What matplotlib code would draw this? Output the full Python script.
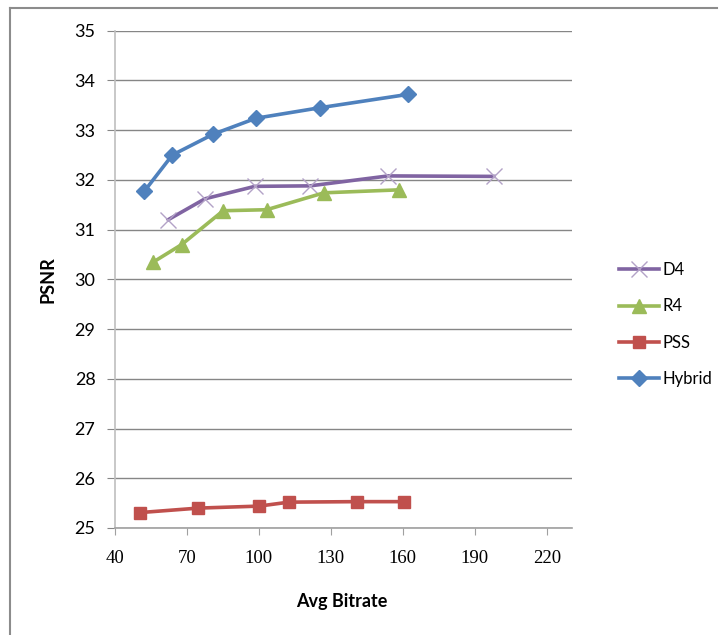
import matplotlib
matplotlib.use("Agg")
from matplotlib import pyplot as plt
from matplotlib.lines import Line2D

# data
hybrid_x = [52.2, 63.9, 81.0, 98.8, 125.3, 162.2]
hybrid_y = [31.77, 32.50, 32.92, 33.24, 33.45, 33.72]

d4_x = [62.2, 77.5, 98.3, 121.3, 153.9, 198.0]
d4_y = [31.20, 31.62, 31.87, 31.88, 32.08, 32.07]

r4_x = [55.7, 67.8, 85.1, 103.2, 127.1, 158.5]
r4_y = [30.34, 30.70, 31.38, 31.40, 31.74, 31.80]

pss_x = [50.4, 74.7, 100.0, 112.5, 140.7, 160.4]
pss_y = [25.31, 25.40, 25.44, 25.52, 25.53, 25.53]

x_ticks = [40, 70, 100, 130, 160, 190, 220]
y_ticks = [25, 26, 27, 28, 29, 30, 31, 32, 33, 34, 35]

W, H = 727, 635
fig = plt.figure(figsize=(W / 100, H / 100), dpi=100)
ax = fig.add_axes([115 / W, 1 - 528 / H, (572 - 115) / W, (528 - 30.7) / H])

lw = 2.6
ax.plot(d4_x, d4_y, color="#8064A2", lw=lw, marker="x", ms=11, mew=1,
        mec="#B3A2C7", label="D4", zorder=3)
ax.plot(r4_x, r4_y, color="#9BBB59", lw=lw, marker="^", ms=10,
        label="R4", zorder=3)
ax.plot(pss_x, pss_y, color="#C0504D", lw=lw, marker="s", ms=9,
        label="PSS", zorder=3)
ax.plot(hybrid_x, hybrid_y, color="#4F81BD", lw=lw, marker="D", ms=8,
        label="Hybrid", zorder=3)

ax.set_xlim(40, 230.5)
ax.set_ylim(25, 35)
ax.set_xticks(x_ticks)
ax.set_yticks(y_ticks)
ax.grid(axis="y", color="#868686", lw=1)
ax.set_axisbelow(True)

for s in ["top", "right"]:
    ax.spines[s].set_visible(False)
ax.spines["left"].set_color("#BFBFBF")
ax.spines["bottom"].set_color("#A0A0A0")
ax.spines["left"].set_linewidth(1.2)
ax.spines["bottom"].set_linewidth(1.2)
ax.tick_params(axis="y", length=6, color="#868686", pad=8,
               labelsize=13)
ax.tick_params(axis="x", length=5, color="#A0A0A0", pad=11,
               labelsize=13.5)
for t in ax.get_yticklabels():
    t.set_fontfamily("Lato")
for t in ax.get_xticklabels():
    t.set_fontfamily("Liberation Serif")

fig.text(48 / W, 1 - 280 / H, "PSNR", rotation=90, ha="center",
         va="center", fontsize=13, fontweight="bold", family="Lato")
fig.text(342 / W, 1 - 602 / H, "Avg Bitrate", ha="center", va="center",
         fontsize=13, fontweight="bold", family="Lato")

handles, labels = ax.get_legend_handles_labels()
fig.legend(handles, labels, loc="upper left",
           bbox_to_anchor=(604 / W, 1 - 247 / H), frameon=False,
           handlelength=2.4, handletextpad=0.2, labelspacing=1.22,
           prop={"family": "Lato", "size": 12})

# outer chart border (left and top only visible)
fig.add_artist(Line2D([10 / W, 10 / W], [0, 1 - 8 / H], color="#8C8C8C",
                      lw=1.5, transform=fig.transFigure))
fig.add_artist(Line2D([10 / W, 717 / W], [1 - 8 / H, 1 - 8 / H],
                      color="#8C8C8C", lw=1.5, transform=fig.transFigure))

fig.savefig("out.png", dpi=100)
